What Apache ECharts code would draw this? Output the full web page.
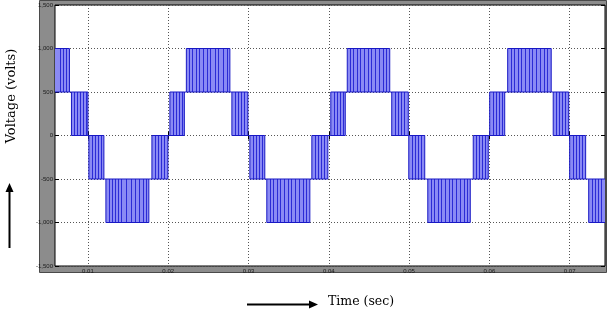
<!DOCTYPE html>
<html><head><meta charset="utf-8">
<script src="https://cdn.jsdelivr.net/npm/echarts@6/dist/echarts.min.js"></script>
<style>html,body{margin:0;padding:0;background:#fff;}#c{width:607px;height:312px;}</style>
</head><body><div id="c"></div>
<script>
// ---- data ----
const xTicks = [0.01, 0.02, 0.03, 0.04, 0.05, 0.06, 0.07];
const yTicks = [-1500, -1000, -500, 0, 500, 1000, 1500];
// switching bands [start, end] (seconds)
const peakBands   = [[0.0040, 0.00770], [0.02226, 0.02768], [0.04230, 0.04759], [0.06228, 0.06770]]; // 500..1000
const upperBands  = [[0.00795, 0.01000], [0.02021, 0.02201], [0.02793, 0.02992], [0.04025, 0.04205], [0.04784, 0.04990], [0.06004, 0.06191], [0.06795, 0.06988]]; // 0..500
const lowerBands  = [[0.01012, 0.01199], [0.01797, 0.01996], [0.03017, 0.03203], [0.03789, 0.03988], [0.04996, 0.05195], [0.05799, 0.05986], [0.07000, 0.07199]]; // -500..0
const troughBands = [[0.01224, 0.01759], [0.03228, 0.03764], [0.05233, 0.05762], [0.07237, 0.0780]]; // -1000..-500
// visible pulse edges (dark vertical lines inside the bands), seconds
const pulseEdges = [
  0.00651, 0.00689, 0.00726,
  0.00826, 0.00863, 0.00901, 0.00938, 0.00975,
  0.01050, 0.01087, 0.01124, 0.01162,
  0.01261, 0.01299, 0.01336, 0.01373, 0.01411, 0.01473, 0.01535, 0.01585, 0.01635, 0.01685, 0.01722,
  0.01834, 0.01871, 0.01909, 0.01946,
  0.02058, 0.02096, 0.02133, 0.02170,
  0.02257, 0.02295, 0.02344, 0.02382, 0.02432, 0.02481, 0.02519, 0.02581, 0.02618, 0.02681, 0.02730,
  0.02830, 0.02867, 0.02905, 0.02942,
  0.03054, 0.03091, 0.03129, 0.03166,
  0.03266, 0.03303, 0.03353, 0.03390, 0.03440, 0.03490, 0.03527, 0.03577, 0.03627, 0.03676, 0.03714,
  0.03826, 0.03863, 0.03901, 0.03938,
  0.04062, 0.04100, 0.04137, 0.04175,
  0.04262, 0.04299, 0.04349, 0.04386, 0.04436, 0.04486, 0.04523, 0.04573, 0.04623, 0.04672, 0.04710,
  0.04822, 0.04859, 0.04896, 0.04934,
  0.05034, 0.05071, 0.05108, 0.05145,
  0.05270, 0.05307, 0.05357, 0.05394, 0.05444, 0.05494, 0.05531, 0.05581, 0.05631, 0.05681, 0.05718,
  0.05830, 0.05867, 0.05905, 0.05942,
  0.06042, 0.06079, 0.06116, 0.06154,
  0.06266, 0.06303, 0.06353, 0.06390, 0.06440, 0.06490, 0.06527, 0.06577, 0.06627, 0.06677, 0.06714,
  0.06826, 0.06863, 0.06901, 0.06938,
  0.07038, 0.07075, 0.07113, 0.07150,
  0.07274, 0.07311, 0.07349, 0.07386
];

const bands = [];
peakBands.forEach(b => bands.push([b[0], b[1], 500, 1000]));
upperBands.forEach(b => bands.push([b[0], b[1], 0, 500]));
lowerBands.forEach(b => bands.push([b[0], b[1], -500, 0]));
troughBands.forEach(b => bands.push([b[0], b[1], -1000, -500]));
bands.sort((a, b) => a[0] - b[0]);

const edges = pulseEdges.map(t => {
  const b = bands.find(bb => t >= bb[0] && t <= bb[1]) || [t, t, 0, 0];
  return [t, b[2], b[3]];
});

const FILL = '#8a8af4', DARK = '#2b2bd6', OUT = '#1818c4';

function clipX(x, cs) { return Math.max(cs.x, Math.min(cs.x + cs.width, x)); }

const chart = echarts.init(document.getElementById('c'), null, {renderer: 'canvas'});
const axisLabelStyle = {fontSize: 6, color: '#1a1a1a', fontFamily: 'Liberation Sans'};
chart.setOption({
  animation: false,
  graphic: [
    {type: 'rect', z: -10, shape: {x: 39.5, y: 0.5, width: 567, height: 272}, style: {fill: '#8c8c8c', stroke: '#4a4a4a', lineWidth: 1}},
    {type: 'text', x: 12, y: 96, rotation: Math.PI / 2, style: {text: 'Voltage (volts)', font: '13px "DejaVu Serif"', fill: '#000', align: 'center', verticalAlign: 'middle'}},
    {type: 'text', x: 328, y: 302, style: {text: 'Time (sec)', font: '12.5px "DejaVu Serif"', fill: '#000', align: 'left', verticalAlign: 'middle'}},
    {type: 'line', shape: {x1: 9.5, y1: 248, x2: 9.5, y2: 190}, style: {stroke: '#000', lineWidth: 2}},
    {type: 'polygon', shape: {points: [[9.5, 183], [5.5, 192], [13.5, 192]]}, style: {fill: '#000'}},
    {type: 'line', shape: {x1: 247, y1: 304.5, x2: 310, y2: 304.5}, style: {stroke: '#000', lineWidth: 2}},
    {type: 'polygon', shape: {points: [[318, 304.5], [309, 300.5], [309, 308.5]]}, style: {fill: '#000'}}
  ],
  grid: {left: 55, right: 2, top: 5, bottom: 46, show: true, backgroundColor: '#ffffff', borderColor: '#000', borderWidth: 1},
  xAxis: [{
    type: 'value', min: 0.0059, max: 0.0744,
    axisLine: {show: false},
    axisTick: {show: true, inside: true, length: 4, customValues: xTicks, lineStyle: {color: '#000'}},
    axisLabel: Object.assign({customValues: xTicks, margin: 2, formatter: v => v.toFixed(2)}, axisLabelStyle),
    splitLine: {show: true, lineStyle: {type: [1, 2], color: '#555', width: 1}}
  }, {
    type: 'value', position: 'top', min: 0.0059, max: 0.0744,
    axisLine: {show: false},
    axisTick: {show: true, inside: true, length: 4, customValues: xTicks, lineStyle: {color: '#000'}},
    axisLabel: {show: false}, splitLine: {show: false}
  }],
  yAxis: [{
    type: 'value', min: -1500, max: 1500, interval: 500,
    axisLine: {show: false},
    axisTick: {show: true, inside: true, length: 4, lineStyle: {color: '#000'}},
    axisLabel: Object.assign({margin: 2}, axisLabelStyle),
    splitLine: {show: true, lineStyle: {type: [1, 2], color: '#555', width: 1}}
  }, {
    type: 'value', position: 'right', min: -1500, max: 1500, interval: 500,
    axisLine: {show: false},
    axisTick: {show: true, inside: true, length: 4, lineStyle: {color: '#000'}},
    axisLabel: {show: false}, splitLine: {show: false}
  }],
  series: [
    { // band fills
      type: 'custom', xAxisIndex: 0, yAxisIndex: 0, z: 3,
      data: bands,
      renderItem: (params, api) => {
        const cs = params.coordSys;
        const p0 = api.coord([api.value(0), api.value(3)]);
        const p1 = api.coord([api.value(1), api.value(2)]);
        const r = echarts.graphic.clipRectByRect({x: p0[0], y: p0[1], width: p1[0] - p0[0], height: p1[1] - p0[1]},
          {x: cs.x, y: cs.y, width: cs.width, height: cs.height});
        if (!r) return;
        return {type: 'rect', shape: r, style: {fill: FILL}};
      }
    },
    { // visible pulse edges
      type: 'custom', xAxisIndex: 0, yAxisIndex: 0, z: 4,
      data: edges,
      renderItem: (params, api) => {
        const cs = params.coordSys;
        const a = api.coord([api.value(0), api.value(2)]);
        const b = api.coord([api.value(0), api.value(1)]);
        if (a[0] < cs.x || a[0] > cs.x + cs.width) return;
        const x = Math.round(a[0]) + 0.5;
        return {type: 'line', shape: {x1: x, y1: a[1], x2: x, y2: b[1]}, style: {stroke: DARK, lineWidth: 1}};
      }
    },
    { // band outlines + connecting level segments
      type: 'custom', xAxisIndex: 0, yAxisIndex: 0, z: 5,
      data: bands.map((b, i) => i),
      renderItem: (params, api) => {
        const cs = params.coordSys;
        const i = api.value(0);
        const b = bands[i];
        const children = [];
        const p0 = api.coord([b[0], b[3]]);
        const p1 = api.coord([b[1], b[2]]);
        const xl = clipX(p0[0], cs), xr = clipX(p1[0], cs);
        if (xr > xl) {
          const pts = [];
          if (p0[0] >= cs.x) pts.push([[xl, p1[1]], [xl, p0[1]]]);
          if (p1[0] <= cs.x + cs.width) pts.push([[xr, p0[1]], [xr, p1[1]]]);
          pts.push([[xl, p0[1]], [xr, p0[1]]]);
          pts.push([[xl, p1[1]], [xr, p1[1]]]);
          pts.forEach(s => children.push({type: 'line', shape: {x1: s[0][0], y1: s[0][1], x2: s[1][0], y2: s[1][1]}, style: {stroke: OUT, lineWidth: 1}}));
        }
        const n = bands[i + 1];
        if (n) {
          const lv = [b[2], b[3]].find(v => v === n[2] || v === n[3]);
          if (lv !== undefined) {
            const q0 = api.coord([b[1], lv]), q1 = api.coord([n[0], lv]);
            const x0 = clipX(q0[0], cs), x1 = clipX(q1[0], cs);
            if (x1 > x0) children.push({type: 'line', shape: {x1: x0, y1: q0[1], x2: x1, y2: q0[1]}, style: {stroke: OUT, lineWidth: 1}});
          }
        }
        return {type: 'group', children};
      }
    }
  ]
});
</script></body></html>
